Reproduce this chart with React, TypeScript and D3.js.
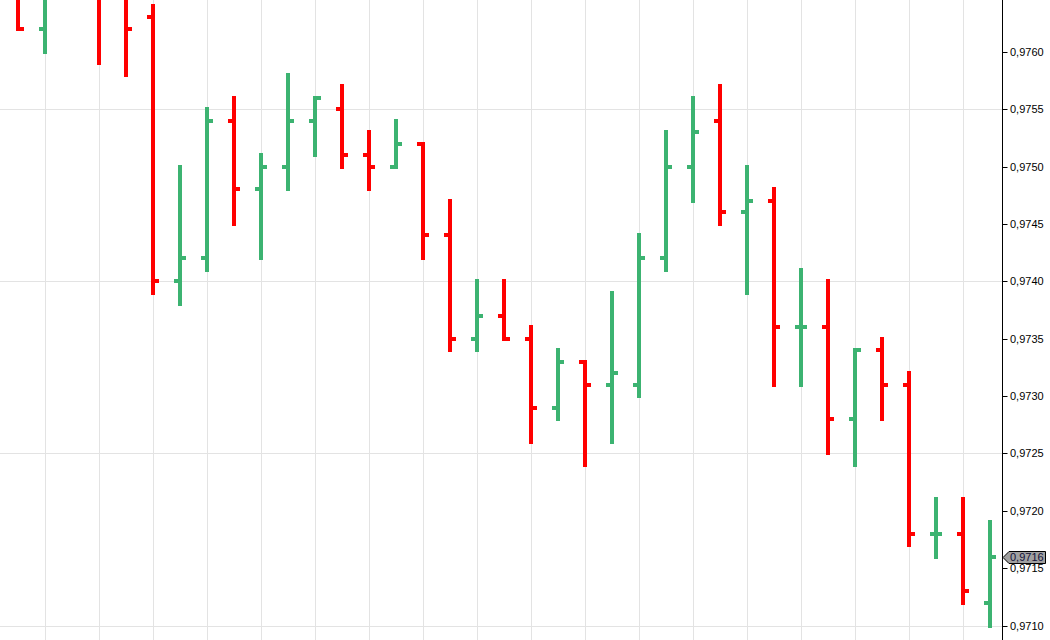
import React from "react";
import * as d3 from "d3";

// OHLC data (bar index 0..36). Bars whose parts lie above the view are clipped.
const opens = [0.9767, 0.9762, 0.9769, 0.9766, 0.9766, 0.9763, 0.9740, 0.9742, 0.9754, 0.9748, 0.9750, 0.9754, 0.9755, 0.9751, 0.9750, 0.9752, 0.9744, 0.9735, 0.9737, 0.9735, 0.9729, 0.9733, 0.9731, 0.9731, 0.9742, 0.9750, 0.9754, 0.9746, 0.9747, 0.9736, 0.9736, 0.9728, 0.9734, 0.9731, 0.9718, 0.9718, 0.9712];
const highs = [0.9770, 0.9768, 0.9772, 0.9770, 0.9768, 0.9764, 0.9750, 0.9755, 0.9756, 0.9751, 0.9758, 0.9756, 0.9757, 0.9753, 0.9754, 0.9752, 0.9747, 0.9740, 0.9740, 0.9736, 0.9734, 0.9733, 0.9739, 0.9744, 0.9753, 0.9756, 0.9757, 0.9750, 0.9748, 0.9741, 0.9740, 0.9734, 0.9735, 0.9732, 0.9721, 0.9721, 0.9719];
const lows = [0.9762, 0.9760, 0.9766, 0.9759, 0.9758, 0.9739, 0.9738, 0.9741, 0.9745, 0.9742, 0.9748, 0.9751, 0.9750, 0.9748, 0.9750, 0.9742, 0.9734, 0.9734, 0.9735, 0.9726, 0.9728, 0.9724, 0.9726, 0.9730, 0.9741, 0.9747, 0.9745, 0.9739, 0.9731, 0.9731, 0.9725, 0.9724, 0.9728, 0.9717, 0.9716, 0.9712, 0.9710];
const closes = [0.9762, 0.9766, 0.9768, 0.9765, 0.9762, 0.9740, 0.9742, 0.9754, 0.9748, 0.9750, 0.9754, 0.9756, 0.9751, 0.9750, 0.9752, 0.9744, 0.9735, 0.9737, 0.9735, 0.9729, 0.9733, 0.9731, 0.9732, 0.9742, 0.9750, 0.9753, 0.9746, 0.9747, 0.9736, 0.9736, 0.9728, 0.9734, 0.9731, 0.9718, 0.9718, 0.9713, 0.9716];
const tickValues = [0.9710, 0.9715, 0.9720, 0.9725, 0.9730, 0.9735, 0.9740, 0.9745, 0.9750, 0.9755, 0.9760];
const hGridValues = [0.9710, 0.9725, 0.9740, 0.9755];
const lastPrice = 0.9716;

const W = 1050;
const H = 640;
const AXIS_X = 1002.5;
const UP = "#3cb371";
const DOWN = "#ff0000";

export default function App() {
  const n = opens.length;
  const x = d3.scaleLinear().domain([0, n - 1]).range([18, 18 + 27 * (n - 1)]);
  const y = d3.scaleLinear().domain([0.971, 0.976]).range([625.7, 51.7]);
  const ry = (v: number) => Math.round(y(v));
  const fmt = (v: number) => v.toFixed(4).replace(".", ",");
  const vGrid = d3.range(1, n, 2);
  const ly = ry(lastPrice);

  return (
    <svg
      width={W}
      height={H}
      style={{ position: "fixed", left: 0, top: 0, background: "#fff" }}
      fontFamily="'Liberation Sans', Arial, sans-serif"
    >
      <defs>
        <clipPath id="plot">
          <rect x={0} y={0} width={1002} height={H} />
        </clipPath>
      </defs>
      <rect x={0} y={0} width={W} height={H} fill="#fff" />
      <g clipPath="url(#plot)">
        {vGrid.map((i) => (
          <line key={"v" + i} x1={x(i) + 0.5} x2={x(i) + 0.5} y1={0} y2={H} stroke="#e3e3e3" strokeWidth={1} />
        ))}
        {hGridValues.map((v) => (
          <line key={"h" + v} x1={0} x2={AXIS_X} y1={ry(v) + 0.5} y2={ry(v) + 0.5} stroke="#e3e3e3" strokeWidth={1} />
        ))}
        {opens.map((o, i) => {
          const c = closes[i];
          const col = c >= o ? UP : DOWN;
          const cx = x(i);
          return (
            <g key={"b" + i} fill={col}>
              <rect x={cx - 2} y={ry(highs[i]) - 2} width={4} height={ry(lows[i]) - ry(highs[i]) + 4} />
              <rect x={cx - 6} y={ry(o) - 2} width={4} height={4} />
              <rect x={cx + 2} y={ry(c) - 2} width={4} height={4} />
            </g>
          );
        })}
      </g>
      <line x1={AXIS_X} x2={AXIS_X} y1={0} y2={H} stroke="#000" strokeWidth={1} />
      {tickValues.map((v) => (
        <g key={"t" + v}>
          <line x1={AXIS_X} x2={AXIS_X + 5} y1={ry(v) + 0.5} y2={ry(v) + 0.5} stroke="#000" strokeWidth={1} />
          <text x={1010} y={ry(v) + 0.5} dy="0.36em" fontSize={11} fill="#000">
            {fmt(v)}
          </text>
        </g>
      ))}
      <path
        d={`M${AXIS_X + 0.5},${ly + 0.5} L${AXIS_X + 6.5},${ly - 5.5} L1045.5,${ly - 5.5} L1045.5,${ly + 6.5} L${AXIS_X + 6.5},${ly + 6.5} Z`}
        fill="#a0a0a0"
        stroke="#000"
        strokeWidth={1}
      />
      <text x={1010} y={ly + 0.5} dy="0.36em" fontSize={11} fill="#10103a">
        {fmt(lastPrice)}
      </text>
    </svg>
  );
}
